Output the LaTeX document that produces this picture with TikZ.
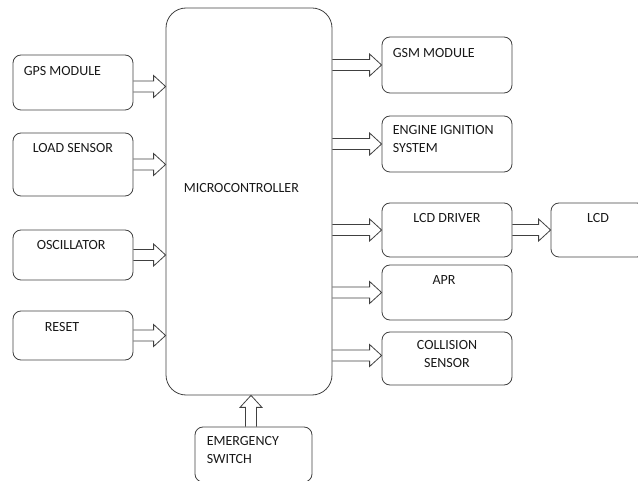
\documentclass[tikz,border=0pt]{standalone}
\usepackage{fontspec}
\setmainfont{Carlito}
\usetikzlibrary{positioning, calc}

\tikzset{
  box/.style={draw=black!75, line width=0.8pt, rounded corners=8pt, minimum width=120pt, minimum height=55pt, inner sep=0pt},
  txt/.style={inner sep=0pt, font=\fontsize{14}{18}\selectfont, text=black!90},
  blockarrow/.style={draw=black!75, line width=0.8pt, line join=miter, to path={
    ($(\tikztotarget)!12pt!(\tikztostart)$) coordinate (ah)
    ($(\tikztostart)!5.5pt!90:(\tikztotarget)$)
    -- ($(ah)!5.5pt!90:(\tikztotarget)$)
    -- ($(ah)!11pt!90:(\tikztotarget)$)
    -- (\tikztotarget)
    -- ($(ah)!11pt!-90:(\tikztotarget)$)
    -- ($(ah)!5.5pt!-90:(\tikztotarget)$)
    -- ($(\tikztostart)!5.5pt!-90:(\tikztotarget)$)}}
}

\begin{document}
\begin{tikzpicture}[x=1pt, y=-1pt, node distance=80pt, on grid]
\useasboundingbox (0,0) rectangle (638,481);
\clip (0,0) rectangle (638,481);

\node[box, rounded corners=20pt, minimum width=166pt, minimum height=387pt] (mc) at (249,201.5) {};

% inputs
\node[box] (gps) at (73,82.5) {};
\node[box, below=82pt of gps, minimum height=63pt] (load) {};
\node[box, below=90.5pt of load, minimum height=50pt] (osc) {};
\node[box, below=80.5pt of osc, minimum height=49pt] (reset) {};
\node[box, minimum width=117pt] (emer) at (253.5,454.5) {};

% outputs
\node[box, minimum width=130pt, minimum height=56pt] (gsm) at (447,65) {};
\node[box, minimum width=130pt, minimum height=56pt, below=79pt of gsm] (engine) {};
\node[box, minimum width=130pt, minimum height=54pt, below=86pt of engine] (lcddrv) {};
\node[box, minimum width=130pt, below=62.5pt of lcddrv] (apr) {};
\node[box, minimum width=130pt, minimum height=53pt, below=66pt of apr] (coll) {};
\node[box, minimum width=94pt, minimum height=54pt, right=151pt of lcddrv] (lcd) {};

% labels
\node[txt, anchor=base west] (mctxt) at ([shift={(18,185)}]mc.north west) {MICROCONTROLLER};
\node[txt, anchor=base west] (gpstxt) at ([shift={(11,21)}]gps.north west) {GPS MODULE};
\node[txt, anchor=base west] (loadtxt) at ([shift={(20,20)}]load.north west) {LOAD SENSOR};
\node[txt, anchor=base west] (osctxt) at ([shift={(24,20)}]osc.north west) {OSCILLATOR};
\node[txt, anchor=base west] (resettxt) at ([shift={(32,21)}]reset.north west) {RESET};
\node[txt, anchor=north west, align=left] (emertxt) at ([shift={(12,9.8)}]emer.north west) {EMERGENCY\\SWITCH};
\node[txt, anchor=base west] (gsmtxt) at ([shift={(11,21)}]gsm.north west) {GSM MODULE};
\node[txt, anchor=north west, align=left] (enginetxt) at ([shift={(11,9.8)}]engine.north west) {ENGINE IGNITION\\SYSTEM};
\node[txt, anchor=base] (lcddrvtxt) at ([shift={(0,20)}]lcddrv.north) {LCD DRIVER};
\node[txt, anchor=base] (aprtxt) at ([shift={(-3,20)}]apr.north) {APR};
\node[txt, anchor=north, align=center] (colltxt) at ([shift={(0,8.8)}]coll.north) {COLLISION\\SENSOR};
\node[txt, anchor=base] (lcdtxt) at ([shift={(0,20)}]lcd.north) {LCD};

% block arrows
\draw[blockarrow] ([yshift=-4pt]gps.east) to ([yshift=-4pt]gps.east -| mc.west);
\draw[blockarrow] (load.east) to (load.east -| mc.west);
\draw[blockarrow] (osc.east) to (osc.east -| mc.west);
\draw[blockarrow] (reset.east) to (reset.east -| mc.west);
\draw[blockarrow] ([xshift=-2.5pt]emer.north) to ([xshift=-2.5pt]emer.north |- mc.south);
\draw[blockarrow] (gsm.west -| mc.east) to (gsm.west);
\draw[blockarrow] (engine.west -| mc.east) to (engine.west);
\draw[blockarrow] (lcddrv.west -| mc.east) to (lcddrv.west);
\draw[blockarrow] (apr.west -| mc.east) to (apr.west);
\draw[blockarrow] ([yshift=3pt]coll.west -| mc.east) to ([yshift=3pt]coll.west);
\draw[blockarrow] (lcddrv.east) to (lcd.west);
\end{tikzpicture}
\end{document}
